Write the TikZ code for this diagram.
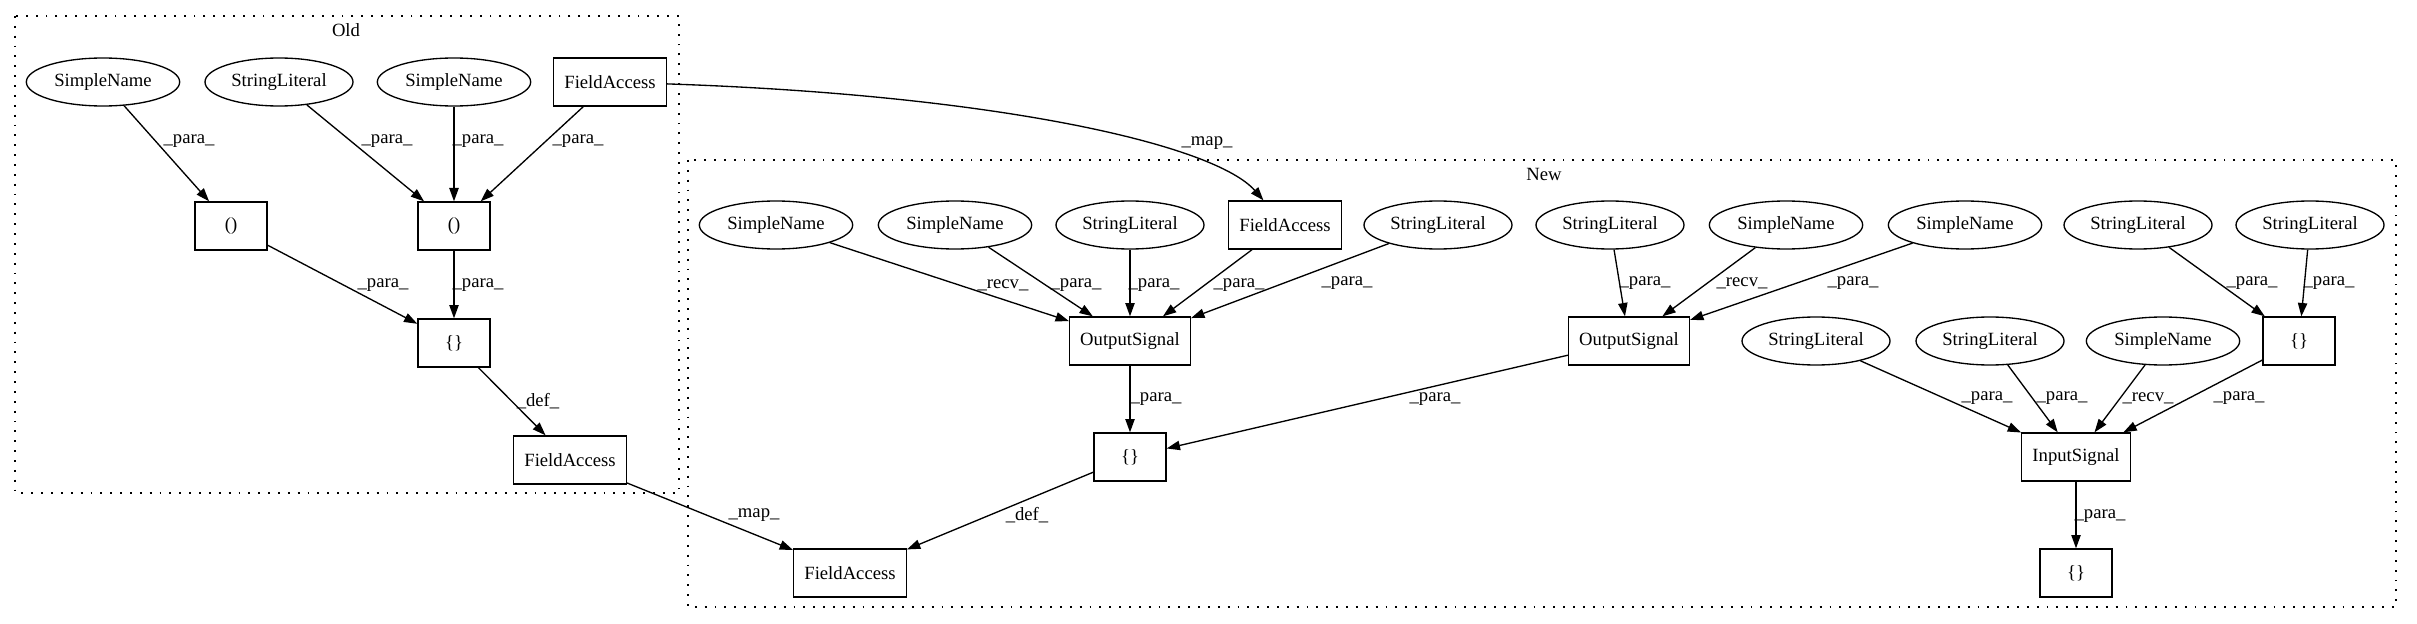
\documentclass[tikz,border=0pt]{standalone}
\usepackage{fontspec}
\setmainfont{Liberation Serif}
\usetikzlibrary{arrows.meta,shapes.geometric}
\tikzset{
  term/.style={draw, line width=1pt, ellipse, inner sep=0pt, minimum height=36pt,
    font=\fontsize{14}{16}\selectfont},
  sname/.style={term, minimum width=115pt},
  slit/.style={term, minimum width=111pt},
  expr/.style={draw, line width=1pt, rectangle, inner xsep=8pt, inner ysep=0pt,
    minimum width=54pt, minimum height=36pt, font=\fontsize{14}{16}\selectfont},
  area/.style={draw, line width=1pt, dash pattern=on 1.4pt off 6pt},
  flow/.style={draw, line width=1pt, -{Triangle[length=10pt,width=7pt]}},
  lbl/.style={font=\fontsize{14}{16}\selectfont, inner sep=0pt}
}
\begin{document}
\begin{tikzpicture}[x=0.75pt, y=-0.75pt]
  \useasboundingbox (0,0) rectangle (2417,624);
  % clusters
  \draw[area] (15,16) rectangle (679,493);
  \draw[area] (688,160) rectangle (2396,607);
  \node[lbl] (oldlbl) at (346,30) {Old};
  \node[lbl] (newlbl) at (1544,174) {New};
  % Old
  \node[sname] (osn1) at (103,82) {SimpleName};
  \node[slit]  (osl1) at (279,82) {StringLiteral};
  \node[sname] (osn2) at (454,82) {SimpleName};
  \node[expr]  (ofa1) at (610,82) {FieldAccess};
  \node[expr]  (op1)  at (231,226) {()};
  \node[expr]  (op2)  at (454,226) {()};
  \node[expr]  (obr)  at (454,343) {\{\}};
  \node[expr]  (ofa2) at (570,460) {FieldAccess};
  \draw[flow] (osn1) -- (op1) node[lbl] at (189,141) {\_para\_};
  \draw[flow] (osl1) -- (op2) node[lbl] at (387,141) {\_para\_};
  \draw[flow] (osn2) -- (op2) node[lbl] at (478,141) {\_para\_};
  \draw[flow] (ofa1) -- (op2) node[lbl] at (578,141) {\_para\_};
  \draw[flow] (op1) -- (obr) node[lbl] at (383,285) {\_para\_};
  \draw[flow] (op2) -- (obr) node[lbl] at (478,285) {\_para\_};
  \draw[flow] (obr) -- (ofa2) node[lbl] at (538,401) {\_def\_};
  % New
  \node[sname] (nsn1) at (776,225) {SimpleName};
  \node[sname] (nsn2) at (955,225) {SimpleName};
  \node[slit]  (nsl1) at (1130,225) {StringLiteral};
  \node[expr]  (nfa1) at (1285,225) {FieldAccess};
  \node[slit]  (nsl2) at (1438,225) {StringLiteral};
  \node[slit]  (nsl3) at (1610,225) {StringLiteral};
  \node[sname] (nsn3) at (1786,225) {SimpleName};
  \node[sname] (nsn4) at (1965,225) {SimpleName};
  \node[slit]  (nsl4) at (2138,225) {StringLiteral};
  \node[slit]  (nsl5) at (2310,225) {StringLiteral};
  \node[expr]  (nos1) at (1130,341) {OutputSignal};
  \node[expr]  (nos2) at (1629,341) {OutputSignal};
  \node[slit]  (nsl6) at (1816,341) {StringLiteral};
  \node[slit]  (nsl7) at (1990,341) {StringLiteral};
  \node[sname] (nsn5) at (2163,341) {SimpleName};
  \node[expr]  (nbr1) at (2299,341) {\{\}};
  \node[expr]  (nbr2) at (1130,457) {\{\}};
  \node[expr]  (nin)  at (2076,457) {InputSignal};
  \node[expr]  (nfa2) at (850,573) {FieldAccess};
  \node[expr]  (nbr3) at (2076,573) {\{\}};
  \draw[flow] (nsn1) -- (nos1) node[lbl] at (1003,285) {\_recv\_};
  \draw[flow] (nsn2) -- (nos1) node[lbl] at (1076,285) {\_para\_};
  \draw[flow] (nsl1) -- (nos1) node[lbl] at (1154,285) {\_para\_};
  \draw[flow] (nfa1) -- (nos1) node[lbl] at (1239,285) {\_para\_};
  \draw[flow] (nsl2) -- (nos1) node[lbl] at (1347,283) {\_para\_};
  \draw[flow] (nsl3) -- (nos2) node[lbl] at (1645,283) {\_para\_};
  \draw[flow] (nsn3) -- (nos2) node[lbl] at (1742,283) {\_recv\_};
  \draw[flow] (nsn4) -- (nos2) node[lbl] at (1853,283) {\_para\_};
  \draw[flow] (nos1) -- (nbr2) node[lbl] at (1156,399) {\_para\_};
  \draw[flow] (nos2) -- (nbr2) node[lbl] at (1435,399) {\_para\_};
  \draw[flow] (nbr2) -- (nfa2) node[lbl] at (1027,515) {\_def\_};
  \draw[flow] (nsl4) -- (nbr1) node[lbl] at (2252,283) {\_para\_};
  \draw[flow] (nsl5) -- (nbr1) node[lbl] at (2329,283) {\_para\_};
  \draw[flow] (nsl6) -- (nin) node[lbl] at (1987,398) {\_para\_};
  \draw[flow] (nsl7) -- (nin) node[lbl] at (2062,398) {\_para\_};
  \draw[flow] (nsn5) -- (nin) node[lbl] at (2148,398) {\_recv\_};
  \draw[flow] (nbr1) -- (nin) node[lbl] at (2239,398) {\_para\_};
  \draw[flow] (nin) -- (nbr3) node[lbl] at (2100,516) {\_para\_};
  % mapping
  \draw[flow] (ofa1) .. controls (1000,95) and (1215,145) .. (nfa1)
    node[lbl] at (1207,143) {\_map\_};
  \draw[flow] (ofa2) -- (nfa2) node[lbl] at (754,515) {\_map\_};
\end{tikzpicture}
\end{document}
